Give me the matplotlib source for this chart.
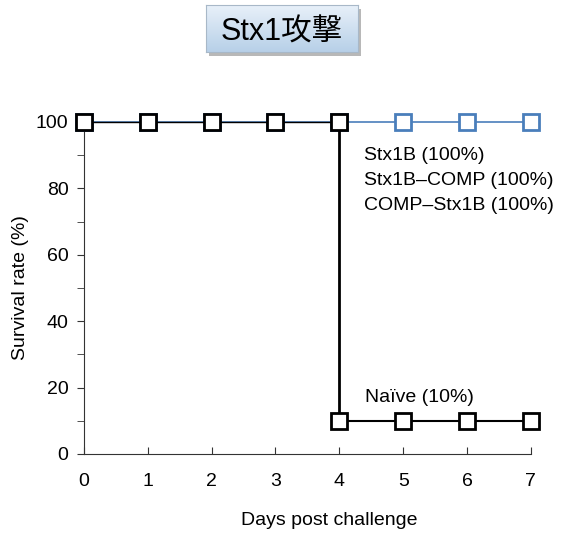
import numpy as np
import matplotlib.pyplot as plt
from matplotlib.colors import LinearSegmentedColormap
from matplotlib.ticker import MultipleLocator

plt.rcParams['font.family'] = ['Liberation Sans', 'Noto Sans CJK JP', 'DejaVu Sans']

days = [0, 1, 2, 3, 4, 5, 6, 7]
vaccinated = [100, 100, 100, 100, 100, 100, 100, 100]
naive_days = [0, 1, 2, 3, 4, 4, 5, 6, 7]
naive = [100, 100, 100, 100, 100, 10, 10, 10, 10]
vacc_label = 'Stx1B (100%)\nStx1B\u2013COMP (100%)\nCOMP\u2013Stx1B (100%)'
naive_label = 'Na\u00efve (10%)'
title = 'Stx1攻撃'

fig = plt.figure(figsize=(5.63, 5.37), dpi=100)
ax = fig.add_axes([0.149, 0.1546, 0.794, 0.6184])

# 免疫群 (青)
ax.plot(days, vaccinated, color='#4a7ebb', lw=1.2, marker='s', ms=11,
        mfc='white', mec='#4a7ebb', mew=2, clip_on=False, zorder=3)
# 未免疫群: 横線は細く、落下線は太く
ax.plot(naive_days[:5], naive[:5], color='black', lw=1.0, zorder=4, clip_on=False)
ax.plot(naive_days[4:6], naive[4:6], color='black', lw=2.0, zorder=4)
ax.plot(naive_days[5:], naive[5:], color='black', lw=1.5, zorder=4)
ax.plot(naive_days, naive, ls='none', marker='s',
        ms=11, mfc='white', mec='black', mew=2, clip_on=False, zorder=5)

ax.set_xlim(0, 7)
ax.set_ylim(0, 100)
ax.set_xticks(days)
ax.yaxis.set_major_locator(MultipleLocator(20))
ax.yaxis.set_minor_locator(MultipleLocator(10))
ax.tick_params(axis='x', direction='in', length=5, labelsize=14, pad=14, color='#333333')
ax.tick_params(axis='y', which='both', direction='out', length=5, labelsize=14, pad=6, color='#333333')
for s in ['top', 'right']:
    ax.spines[s].set_visible(False)
for s in ['left', 'bottom']:
    ax.spines[s].set_color('#333333')
ax.set_xlabel('Days post challenge', fontsize=14)
ax.xaxis.set_label_coords(0.55, -0.175)
ax.set_ylabel('Survival rate (%)', fontsize=14, labelpad=5)

ax.text(4.38, 92.3, vacc_label, fontsize=14, va='top', linespacing=1.6)
ax.text(4.4, 17.0, naive_label, fontsize=14, va='center')

# タイトルボックス (影 + グラデーション)
shadow = fig.add_axes([0.371, 0.896, 0.270, 0.087])
shadow.set_facecolor('#b8b8b8')
shadow.set_xticks([])
shadow.set_yticks([])
for s in shadow.spines.values():
    s.set_visible(False)
tax = fig.add_axes([0.366, 0.903, 0.270, 0.087])
cmap = LinearSegmentedColormap.from_list('tb', ['#b7d0e8', '#e8f0f9'])
tax.imshow(np.linspace(0, 1, 50).reshape(-1, 1), cmap=cmap, aspect='auto',
           origin='lower', extent=[0, 1, 0, 1])
tax.set_xticks([])
tax.set_yticks([])
for s in tax.spines.values():
    s.set_color('#a8b8c8')
tax.text(0.5, 0.42, title, fontsize=22, ha='center', va='center',
         family=['Liberation Sans', 'Noto Sans CJK JP'], transform=tax.transAxes)

fig.savefig('out.png', dpi=100)
